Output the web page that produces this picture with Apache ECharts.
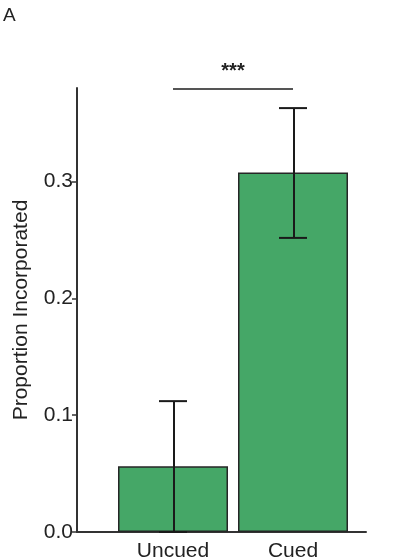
<!DOCTYPE html>
<html>
<head>
<meta charset="utf-8">
<script src="https://cdn.jsdelivr.net/npm/echarts@6/dist/echarts.min.js"></script>
<style>
  html, body { margin: 0; padding: 0; background: #fff; }
  #chart { width: 408px; height: 560px; }
</style>
</head>
<body>
<div id="chart"></div>
<script>
// values
const categories = ['Uncued', 'Cued'];
const means = [0.0563, 0.3076];
const errLow = [0.0, 0.2517];
const errHigh = [0.112, 0.3628];
const yTicks = [0, 0.1, 0.2, 0.3];
const sigLevel = 0.379;
const sigText = '***';

const font = '"Liberation Sans", Arial, Helvetica, sans-serif';
const ink = '#222';
const barGreen = '#45a767';

const chart = echarts.init(document.getElementById('chart'), null, { renderer: 'canvas' });

const errData = categories.map((c, i) => [i, errLow[i], errHigh[i]]);

chart.setOption({
  backgroundColor: '#fff',
  animation: false,
  title: {
    text: 'A',
    left: -2,
    top: 1,
    textStyle: { fontFamily: font, fontSize: 19, fontWeight: 'normal', color: ink },
  },
  grid: [
    { left: 77, right: 42, top: 88, bottom: 28, outerBoundsMode: 'none' },
    { left: 113, right: 55, top: 88, bottom: 28, outerBoundsMode: 'none' },
  ],
  xAxis: [
    {
      gridIndex: 0,
      type: 'value',
      min: 0,
      max: 1,
      axisLine: { show: true, lineStyle: { color: '#333', width: 2 } },
      axisTick: { show: false },
      axisLabel: { show: false },
      splitLine: { show: false },
    },
    {
      gridIndex: 1,
      type: 'category',
      data: categories,
      axisLine: { show: false },
      axisTick: { show: false },
      axisLabel: { fontFamily: font, fontSize: 21, color: ink, margin: 9 },
    },
  ],
  yAxis: [
    {
      gridIndex: 0,
      type: 'value',
      min: 0,
      max: 0.38,
      name: 'Proportion Incorporated',
      nameLocation: 'middle',
      nameRotate: 90,
      nameGap: 45,
      nameTextStyle: { fontFamily: font, fontSize: 21, color: ink },
      axisLine: { show: true, lineStyle: { color: '#333', width: 2 } },
      axisTick: {
        show: true,
        length: 5,
        customValues: yTicks,
        lineStyle: { color: '#333', width: 1.5 },
      },
      axisLabel: {
        fontFamily: font,
        fontSize: 21,
        color: ink,
        margin: 4,
        customValues: yTicks,
        formatter: (v) => v.toFixed(1),
      },
      splitLine: { show: false },
    },
    {
      gridIndex: 1,
      type: 'value',
      min: 0,
      max: 0.38,
      show: false,
      splitLine: { show: false },
    },
  ],
  series: [
    {
      type: 'bar',
      xAxisIndex: 1,
      yAxisIndex: 1,
      data: means,
      barWidth: 110,
      itemStyle: { color: barGreen, borderColor: '#262626', borderWidth: 1.5 },
      markLine: {
        symbol: 'none',
        silent: true,
        lineStyle: { color: '#555', width: 2, type: 'solid' },
        label: {
          show: true,
          position: 'middle',
          formatter: sigText,
          fontFamily: font,
          fontSize: 20,
          fontWeight: 'bold',
          color: ink,
          distance: 8,
        },
        data: [[
          { coord: [0, sigLevel] },
          { coord: [1, sigLevel] },
        ]],
      },
    },
    {
      type: 'custom',
      xAxisIndex: 1,
      yAxisIndex: 1,
      data: errData,
      z: 5,
      renderItem: (params, api) => {
        const x = api.value(0);
        const lo = api.coord([x, api.value(1)]);
        const hi = api.coord([x, api.value(2)]);
        const cap = 14;
        const style = { stroke: '#1a1a1a', lineWidth: 2 };
        return {
          type: 'group',
          children: [
            { type: 'line', shape: { x1: hi[0] + 1, y1: hi[1], x2: lo[0] + 1, y2: lo[1] }, style },
            { type: 'line', shape: { x1: hi[0] - cap, y1: hi[1], x2: hi[0] + cap, y2: hi[1] }, style },
            { type: 'line', shape: { x1: lo[0] - cap, y1: lo[1], x2: lo[0] + cap, y2: lo[1] }, style },
          ],
        };
      },
    },
  ],
});
</script>
</body>
</html>
